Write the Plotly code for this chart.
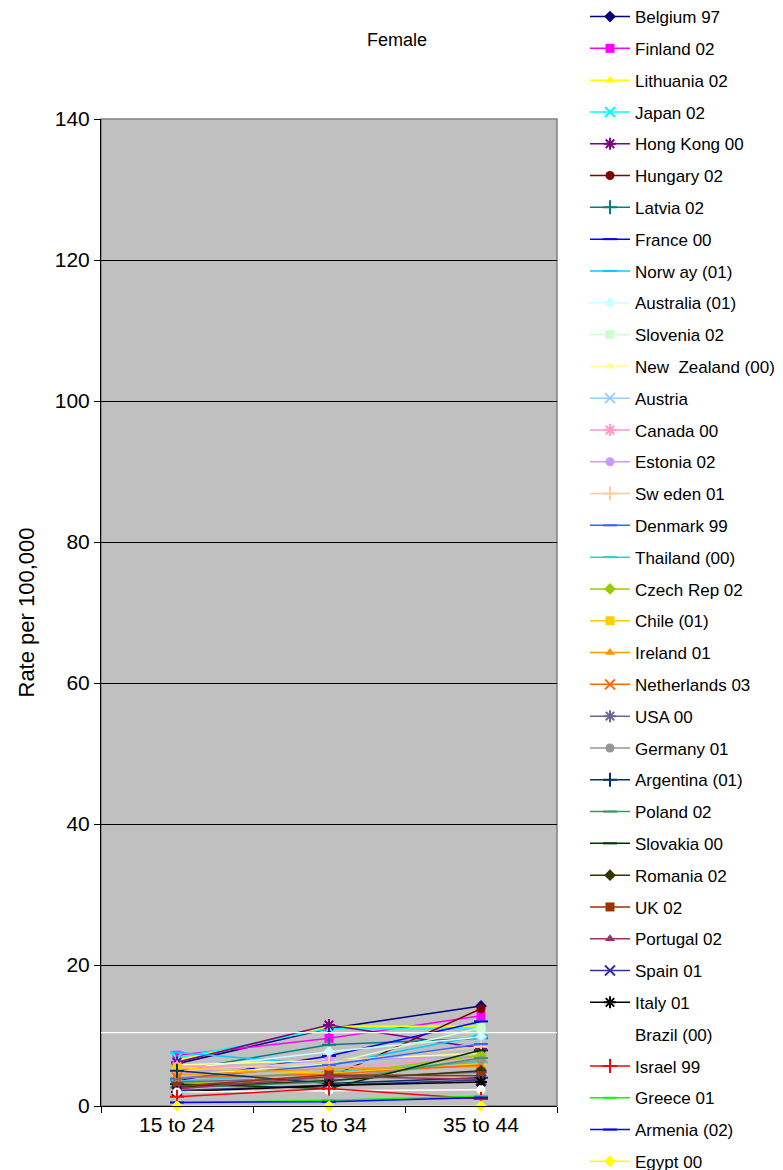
import plotly.graph_objects as go

categories = ["15 to 24", "25 to 34", "35 to 44"]

countries = [
    "Belgium 97", "Finland 02", "Lithuania 02", "Japan 02", "Hong Kong 00",
    "Hungary 02", "Latvia 02", "France 00", "Norw ay (01)", "Australia (01)",
    "Slovenia 02", "New  Zealand (00)", "Austria", "Canada 00", "Estonia 02",
    "Sw eden 01", "Denmark 99", "Thailand (00)", "Czech Rep 02", "Chile (01)",
    "Ireland 01", "Netherlands 03", "USA 00", "Germany 01", "Argentina (01)",
    "Poland 02", "Slovakia 00", "Romania 02", "UK 02", "Portugal 02",
    "Spain 01", "Italy 01", "Brazil (00)", "Israel 99", "Greece 01",
    "Armenia (02)", "Egypt 00",
]

values = [
    [6.0, 11.0, 14.2],   # Belgium
    [7.2, 9.6, 12.8],    # Finland
    [6.5, 11.3, 11.3],   # Lithuania
    [6.8, 11.0, 10.9],   # Japan
    [6.2, 11.5, 8.2],    # Hong Kong
    [2.8, 4.0, 13.8],    # Hungary
    [5.0, 8.7, 9.6],     # Latvia
    [3.6, 7.1, 12.0],    # France
    [7.6, 5.8, 10.0],    # Norway
    [5.2, 7.7, 9.8],     # Australia
    [4.3, 6.0, 11.1],    # Slovenia
    [5.8, 6.5, 7.5],     # New Zealand
    [4.2, 5.4, 9.0],     # Austria
    [5.6, 5.4, 6.8],     # Canada
    [4.6, 6.5, 7.0],     # Estonia
    [5.0, 6.2, 8.4],     # Sweden
    [3.9, 5.8, 8.8],     # Denmark
    [3.5, 4.8, 6.2],     # Thailand
    [3.2, 4.3, 7.2],     # Czech Rep
    [5.4, 4.6, 6.0],     # Chile
    [4.4, 5.3, 5.6],     # Ireland
    [4.0, 4.5, 5.8],     # Netherlands
    [3.4, 4.0, 4.8],     # USA
    [3.0, 3.9, 6.5],     # Germany
    [5.0, 3.2, 4.0],     # Argentina
    [2.6, 3.4, 6.8],     # Poland
    [3.1, 2.5, 7.9],     # Slovakia
    [2.7, 3.6, 5.0],     # Romania
    [2.8, 4.4, 4.3],     # UK
    [2.4, 4.2, 3.8],     # Portugal
    [2.2, 3.0, 3.7],     # Spain
    [2.0, 2.9, 3.4],     # Italy
    [2.0, 2.2, 2.3],     # Brazil
    [1.3, 2.5, 1.0],     # Israel
    [0.5, 0.8, 1.4],     # Greece
    [0.5, 0.6, 1.2],     # Armenia
    [0.0, 0.0, 0.0],     # Egypt
]

colors = [
    "#000080", "#FF00FF", "#FFFF00", "#00FFFF", "#800080",
    "#800000", "#008080", "#0000FF", "#00CCFF", "#CCFFFF",
    "#CCFFCC", "#FFFF99", "#99CCFF", "#FF99CC", "#CC99FF",
    "#FFCC99", "#3366FF", "#33CCCC", "#99CC00", "#FFCC00",
    "#FF9900", "#FF6600", "#666699", "#969696", "#003366",
    "#339966", "#003300", "#333300", "#993300", "#993366",
    "#333399", "#000000", "#FFFFFF", "#FF0000", "#00FF00",
    "#0000FF", "#FFFF00",
]

symbols = [
    "diamond", "square", "triangle-up", "x-thin-open", "asterisk-open",
    "circle", "cross-thin-open", "line-ew-open", "line-ew-open", "diamond",
    "square", "triangle-up", "x-thin-open", "asterisk-open", "circle",
    "cross-thin-open", "line-ew-open", "line-ew-open", "diamond", "square",
    "triangle-up", "x-thin-open", "asterisk-open", "circle", "cross-thin-open",
    "line-ew-open", "line-ew-open", "diamond", "square", "triangle-up",
    "x-thin-open", "asterisk-open", "circle", "cross-thin-open", "line-ew-open",
    "line-ew-open", "diamond",
]

reference_level = 10.4
y_ticks = [0, 20, 40, 60, 80, 100, 120, 140]

FONT = "Liberation Sans, Arial, sans-serif"

fig = go.Figure()
for i, (name, vals, col, sym) in enumerate(zip(countries, values, colors, symbols)):
    is_open = sym.endswith("-open")
    fig.add_trace(go.Scatter(
        x=categories, y=vals, name=name, mode="lines+markers",
        legendgroup=f"g{i}", cliponaxis=False,
        line=dict(color=col, width=1.5),
        marker=dict(symbol=sym, color=col, size=10 if is_open else 9,
                    line=dict(color=col, width=2 if is_open else 0)),
    ))

# plot-area border (gray) under axes
fig.add_shape(type="rect", xref="paper", yref="paper", x0=0, x1=1, y0=0, y1=1,
              line=dict(color="#808080", width=1.5), layer="below")
fig.add_shape(type="line", xref="paper", x0=0, x1=1, yref="y",
              y0=reference_level, y1=reference_level,
              line=dict(color="white", width=1.2))

# page shows the figure offset by ~8px (body margin), so margins compensate
L, T, R, B = 93, 111, 234, 72
plot_h = 1170 - T - B
plot_w = 783 - L - R

fig.update_layout(
    width=783, height=1170,
    margin=dict(l=L, r=R, t=T, b=B, autoexpand=False),
    paper_bgcolor="white", plot_bgcolor="#C0C0C0",
    font=dict(family=FONT, size=20, color="black"),
    title=dict(text="Female", x=389 / 783, xanchor="center", y=1 - 32 / 1170,
               yanchor="middle", font=dict(size=18)),
    showlegend=True,
    legend=dict(x=(577 - L) / plot_w, xanchor="left",
                y=(1170 - B + 9) / plot_h, yanchor="top",
                traceorder="grouped", tracegroupgap=6.7, itemwidth=40,
                font=dict(size=17), bgcolor="rgba(0,0,0,0)", maxheight=1250),
    xaxis=dict(type="category", range=[-0.5, 2.5], showgrid=False, showline=True,
               linecolor="black", linewidth=1, ticks="outside", ticklen=6,
               tickcolor="black", tickson="boundaries", tickfont=dict(size=21),
               zeroline=False),
    yaxis=dict(range=[0, 140], tickvals=y_ticks, showgrid=True, gridcolor="black",
               gridwidth=1, showline=True, linecolor="black", linewidth=1,
               ticks="outside", ticklen=6, tickcolor="black", zeroline=False,
               tickfont=dict(size=21),
               title=dict(text="Rate per 100,000", font=dict(size=22), standoff=14)),
)

fig.write_html("out.html")
